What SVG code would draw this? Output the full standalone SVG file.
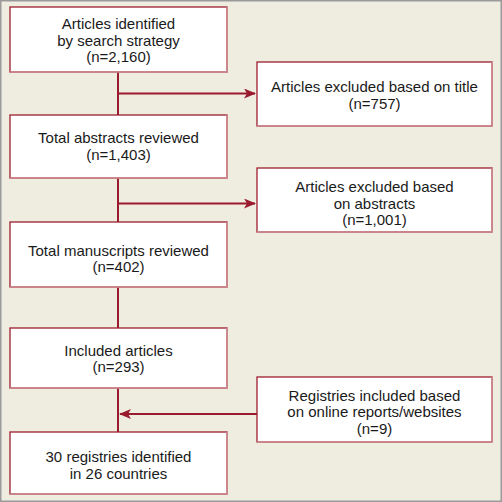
<svg xmlns="http://www.w3.org/2000/svg" width="502" height="502" viewBox="0 0 502 502">
<style>
.box{fill:#ffffff;stroke:#9b1f2e;stroke-width:1.3}
.sh{fill:none;stroke:#cf8f93;stroke-width:1.6}
.t{font-family:"Liberation Sans",Arial,sans-serif;font-size:15px;fill:#1a1a1a;text-anchor:middle}
.c{fill:none;stroke:#9b1b2e;stroke-width:2}
</style>
<defs>
<marker id="ah" viewBox="0 0 12 10" refX="11" refY="5" markerWidth="12" markerHeight="10" markerUnits="userSpaceOnUse" orient="auto">
<path d="M0,0 L12,5 L0,10 L3,5 Z" fill="#9b1b2e"/>
</marker>
</defs>
<rect x="0.75" y="0.75" width="500.5" height="500.5" fill="#efece0" stroke="#9a9a9a" stroke-width="1.5"/>
<g id="connectors">
<path class="c" d="M118,72 V115 M118,178 V222 M118,287 V328 M118,388 V432"/>
<path class="c" d="M118,93.5 H255" marker-end="url(#ah)"/>
<path class="c" d="M118,203.5 H255" marker-end="url(#ah)"/>
<path class="c" d="M257,414 H120" marker-end="url(#ah)"/>
</g>
<g id="n1">
<rect class="box" x="10" y="7" width="217" height="65"/>
<path class="sh" d="M10,72 H227 V7"/>
<text class="t" x="118.5" y="28.5">Articles identified</text>
<text class="t" x="118.5" y="45.5">by search strategy</text>
<text class="t" x="118.5" y="62">(n=2,160)</text>
</g>
<g id="n2">
<rect class="box" x="257" y="62" width="235" height="64"/>
<path class="sh" d="M257,126 H492 V62"/>
<text class="t" x="374.5" y="92">Articles excluded based on title</text>
<text class="t" x="374.5" y="108.5">(n=757)</text>
</g>
<g id="n3">
<rect class="box" x="10" y="115" width="217" height="63"/>
<path class="sh" d="M10,178 H227 V115"/>
<text class="t" x="118.5" y="143">Total abstracts reviewed</text>
<text class="t" x="118.5" y="160">(n=1,403)</text>
</g>
<g id="n4">
<rect class="box" x="257" y="168" width="235" height="64"/>
<path class="sh" d="M257,232 H492 V168"/>
<text class="t" x="374.5" y="192">Articles excluded based</text>
<text class="t" x="374.5" y="208.5">on abstracts</text>
<text class="t" x="374.5" y="225">(n=1,001)</text>
</g>
<g id="n5">
<rect class="box" x="10" y="222" width="217" height="65"/>
<path class="sh" d="M10,287 H227 V222"/>
<text class="t" x="118.5" y="255.5">Total manuscripts reviewed</text>
<text class="t" x="118.5" y="272">(n=402)</text>
</g>
<g id="n6">
<rect class="box" x="10" y="328" width="217" height="60"/>
<path class="sh" d="M10,388 H227 V328"/>
<text class="t" x="118.5" y="355.5">Included articles</text>
<text class="t" x="118.5" y="372">(n=293)</text>
</g>
<g id="n7">
<rect class="box" x="257" y="377" width="235" height="65"/>
<path class="sh" d="M257,442 H492 V377"/>
<text class="t" x="374.5" y="401">Registries included based</text>
<text class="t" x="374.5" y="417">on online reports/websites</text>
<text class="t" x="374.5" y="434">(n=9)</text>
</g>
<g id="n8">
<rect class="box" x="10" y="432" width="217" height="62"/>
<path class="sh" d="M10,494 H227 V432"/>
<text class="t" x="118.5" y="462">30 registries identified</text>
<text class="t" x="118.5" y="479">in 26 countries</text>
</g>
</svg>
